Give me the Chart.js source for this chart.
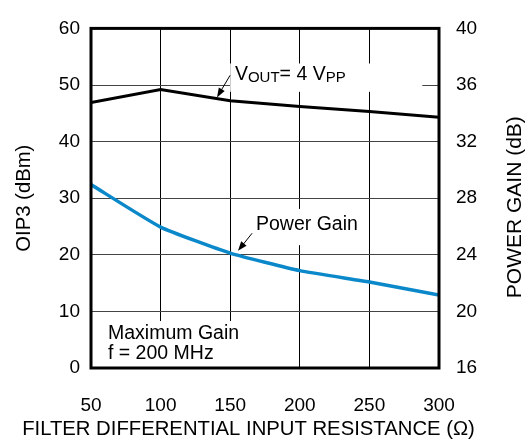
<!DOCTYPE html>
<html>
<head>
<meta charset="utf-8">
<script src="https://cdn.jsdelivr.net/npm/chart.js@4/dist/chart.umd.min.js"></script>
<style>
  html, body { margin: 0; padding: 0; background: #fff; }
  #grafico { display: block; }
</style>
</head>
<body>
<canvas id="grafico" width="525" height="439"></canvas>
<script>
// filter differential input resistance (ohm)
var resistencias = [50, 100, 150, 200, 250, 300];
// OIP3 at VOUT = 4 VPP, dBm (left axis)
var oip3 = [46.9, 49.2, 47.2, 46.2, 45.3, 44.3];
// power gain, dB (right axis)
var ganho = [28.96, 25.96, 24.12, 22.88, 22.08, 21.16];

var FONTE = '"Liberation Sans", Arial, sans-serif';
var AZUL = '#0a88c9';

function pontos(xs, ys) {
	return xs.map(function(x, i) { return { x: x, y: ys[i] }; });
}

// annotation text and arrows, anchored in data coordinates (x, left y)
var anotacoes = {
	draw: function(chart) {
		var ctx = chart.ctx;
		var x = chart.scales.x, y = chart.scales.y;
		var px = function(v) { return x.getPixelForValue(v); };
		var py = function(v) { return y.getPixelForValue(v); };
		ctx.save();

		// white boxes that break the grid behind labels
		ctx.fillStyle = '#fff';
		ctx.fillRect(px(150), py(53.8), px(288) - px(150), py(48.8) - py(53.8));
		ctx.fillRect(px(164), py(28.1), px(245) - px(164), py(21.7) - py(28.1));
		ctx.fillRect(px(58), py(8.3), px(160) - px(58), py(0) - py(8.3));

		ctx.fillStyle = '#000';
		ctx.textBaseline = 'middle';
		ctx.textAlign = 'left';

		// VOUT= 4 VPP
		var cx = px(153.4), cy = py(51.9);
		var partes = [['V', 19.5, 0], ['OUT', 15, 3.5], ['= 4 V', 19.5, 0], ['PP', 15, 3.5]];
		partes.forEach(function(p) {
			ctx.font = p[1] + 'px ' + FONTE;
			ctx.fillText(p[0], cx, cy + p[2]);
			cx += ctx.measureText(p[0]).width;
		});

		ctx.font = '19.5px ' + FONTE;
		ctx.fillText('Power Gain', px(168.5), py(25.4));
		ctx.fillText('Maximum Gain', px(62.2), py(6.1));
		ctx.fillText('f = 200 MHz', px(62.2), py(2.5));

		seta(ctx, px(149.9), py(51.7), px(140.5), py(47.8));
		seta(ctx, px(165.7), py(23.8), px(155.6), py(20.7));

		ctx.restore();
	}
};

function seta(ctx, x1, y1, x2, y2) {
	var ang = Math.atan2(y2 - y1, x2 - x1);
	ctx.strokeStyle = '#000';
	ctx.lineWidth = 1;
	ctx.beginPath();
	ctx.moveTo(x1, y1);
	ctx.lineTo(x2 - 6 * Math.cos(ang), y2 - 6 * Math.sin(ang));
	ctx.stroke();
	ctx.beginPath();
	ctx.moveTo(x2, y2);
	ctx.lineTo(x2 - 10 * Math.cos(ang - 0.35), y2 - 10 * Math.sin(ang - 0.35));
	ctx.lineTo(x2 - 10 * Math.cos(ang + 0.35), y2 - 10 * Math.sin(ang + 0.35));
	ctx.closePath();
	ctx.fill();
}

var moldura = {
	id: 'moldura',
	beforeDatasetsDraw: function(chart) {
		anotacoes.draw(chart);
	},
	afterDatasetsDraw: function(chart) {
		var a = chart.chartArea, ctx = chart.ctx;
		ctx.save();
		ctx.strokeStyle = '#000';
		ctx.lineWidth = 3;
		ctx.strokeRect(a.left, a.top, a.right - a.left, a.bottom - a.top);

		ctx.fillStyle = '#000';
		ctx.textAlign = 'center';
		ctx.textBaseline = 'middle';
		// x axis title, wider than the plot so drawn here without squeezing
		ctx.font = '20.3px ' + FONTE;
		ctx.fillText('FILTER DIFFERENTIAL INPUT RESISTANCE (Ω)', 248.5, 429);
		// right axis title, reads bottom to top
		ctx.translate(515, (a.top + a.bottom) / 2 + 9);
		ctx.rotate(-Math.PI / 2);
		ctx.font = '21px ' + FONTE;
		ctx.fillText('POWER GAIN (dB)', 0, 0);
		ctx.restore();
	}
};

new Chart(document.getElementById('grafico').getContext('2d'), {
	type: 'line',
	data: {
		datasets: [{
			label: 'VOUT = 4 VPP',
			data: pontos(resistencias, oip3),
			borderColor: '#000',
			borderWidth: 3,
			pointRadius: 0,
			tension: 0,
			yAxisID: 'y'
		}, {
			label: 'Power Gain',
			data: pontos(resistencias, ganho),
			borderColor: AZUL,
			borderWidth: 3.5,
			pointRadius: 0,
			tension: 0.15,
			yAxisID: 'y2'
		}]
	},
	options: {
		responsive: false,
		animation: false,
		layout: { padding: { top: 20, bottom: 0, left: 0, right: 0 } },
		plugins: { legend: { display: false }, tooltip: { enabled: false } },
		scales: {
			x: {
				type: 'linear',
				min: 50, max: 300,
				afterFit: function(s) { s.height = 71; },
				grid: { color: '#000', lineWidth: 1, drawTicks: false },
				border: { display: false },
				ticks: { stepSize: 50, padding: 26, color: '#000', font: { family: FONTE, size: 19 } }
			},
			y: {
				position: 'left',
				min: 0, max: 60,
				afterFit: function(s) { s.width = 91; },
				grid: { color: '#444', lineWidth: 1, drawTicks: false },
				border: { display: false },
				ticks: { stepSize: 10, padding: 11, color: '#000', font: { family: FONTE, size: 19 } },
				title: {
					display: true,
					text: 'OIP3 (dBm)',
					color: '#000',
					font: { family: FONTE, size: 20.3, lineHeight: 1 },
					padding: { top: 14, bottom: 0 }
				}
			},
			y2: {
				position: 'right',
				min: 16, max: 40,
				afterFit: function(s) { s.width = 86; },
				grid: { display: false, drawTicks: false },
				border: { display: false },
				ticks: { stepSize: 4, padding: 17, color: '#000', font: { family: FONTE, size: 19 } }
			}
		}
	},
	plugins: [moldura]
});
</script>
</body>
</html>
